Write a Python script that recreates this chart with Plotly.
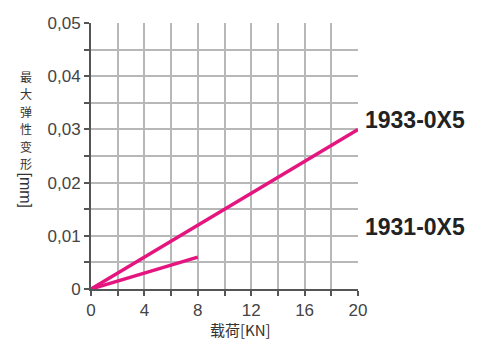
import plotly.graph_objects as go

# Load [KN] vs. maximum elastic deformation [mm]
load_1933 = [0, 20]
defl_1933 = [0, 0.030]
load_1931 = [0, 8]
defl_1931 = [0, 0.006]

series_names = ["1933-0X5", "1931-0X5"]

x_ticks = list(range(0, 21, 2))
x_ticktext = [str(v) if v % 4 == 0 else "" for v in x_ticks]
y_ticks = [i * 0.005 for i in range(11)]
y_ticktext = ["0", "", "0,01", "", "0,02", "", "0,03", "", "0,04", "", "0,05"]

magenta = "#E5157F"
latin = "Liberation Sans, Arial, sans-serif"
cjk = "Noto Sans CJK SC"

# plot area in pixels
L, R, T, B = 91, 358, 23, 289
W, H = 481, 340


def px(x):
    return (x - L) / (R - L)


def py(y):
    return (B - y) / (B - T)


fig = go.Figure()
fig.add_trace(go.Scatter(x=load_1933, y=defl_1933, mode="lines",
                         line=dict(color=magenta, width=3.5), name=series_names[0]))
fig.add_trace(go.Scatter(x=load_1931, y=defl_1931, mode="lines",
                         line=dict(color=magenta, width=3.5), name=series_names[1]))

fig.update_layout(
    width=W, height=H,
    margin=dict(l=L, r=W - R, t=T, b=H - B),
    paper_bgcolor="white", plot_bgcolor="white",
    showlegend=False,
    font=dict(family=latin, size=16, color="#333333"),
)

axis_style = dict(
    ticks="outside", ticklen=5, tickwidth=1.5, tickcolor="#555555",
    showline=True, linecolor="#555555", linewidth=2,
    showgrid=True, gridcolor="#b8b8b8", gridwidth=1.5, zeroline=False,
    tickfont=dict(size=17, color="#444444", family=latin),
)
fig.update_xaxes(range=[0, 20], tickmode="array", tickvals=x_ticks,
                 ticktext=x_ticktext, **axis_style)
fig.update_yaxes(range=[0, 0.05], tickmode="array", tickvals=y_ticks,
                 ticktext=y_ticktext, **axis_style)

# Series labels to the right of the plot
fig.add_annotation(x=px(363), y=py(120), xref="paper", yref="paper",
                   text="<b>" + series_names[0] + "</b>", showarrow=False,
                   xanchor="left", yanchor="middle",
                   font=dict(size=23, color="#222222", family=latin))
fig.add_annotation(x=px(363), y=py(226.5), xref="paper", yref="paper",
                   text="<b>" + series_names[1] + "</b>", showarrow=False,
                   xanchor="left", yanchor="middle",
                   font=dict(size=23, color="#222222", family=latin))

# X-axis title
fig.add_annotation(x=px(240), y=py(329.5), xref="paper", yref="paper",
                   text="载荷[KN]", showarrow=False,
                   xanchor="center", yanchor="middle",
                   font=dict(size=15, color="#333333", family=cjk))

# Y-axis title: upright stacked characters, unit rotated
for i, ch in enumerate("最大弹性变形"):
    fig.add_annotation(x=px(25.5), y=py(76 + i * 17.5), xref="paper", yref="paper",
                       text=ch, showarrow=False, xanchor="center", yanchor="middle",
                       font=dict(size=12, color="#333333", family=cjk))
fig.add_annotation(x=px(25.5), y=py(190), xref="paper", yref="paper",
                   text="[mm]", textangle=90, showarrow=False,
                   xanchor="center", yanchor="middle",
                   font=dict(size=16, color="#333333", family=latin))

fig.write_html("out.html")
